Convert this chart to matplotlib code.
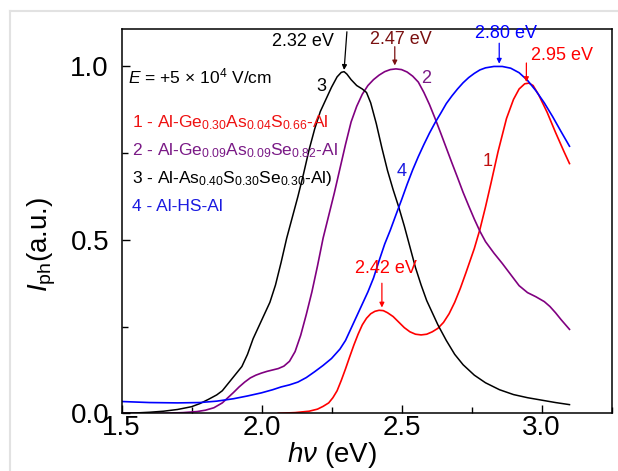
import matplotlib
matplotlib.use("Agg")
import matplotlib.pyplot as plt
from matplotlib.lines import Line2D
from matplotlib.ticker import MultipleLocator

plt.rcParams['font.family'] = ['Liberation Sans', 'DejaVu Sans']
plt.rcParams['mathtext.fontset'] = 'custom'
plt.rcParams['mathtext.rm'] = 'Liberation Sans'
plt.rcParams['mathtext.it'] = 'Liberation Sans:italic'
plt.rcParams['mathtext.bf'] = 'Liberation Sans:bold'

# ---- data ----
x1 = [2.06, 2.12, 2.17, 2.20, 2.22, 2.24, 2.255, 2.27, 2.285, 2.30, 2.315, 2.33, 2.345, 2.36,
      2.375, 2.39, 2.405, 2.42, 2.435, 2.45, 2.47, 2.49, 2.51, 2.53, 2.55, 2.57, 2.59, 2.61,
      2.63, 2.65, 2.67, 2.69, 2.71, 2.73, 2.76, 2.78, 2.80, 2.82, 2.845, 2.875, 2.90, 2.92,
      2.94, 2.955, 2.97, 2.99, 3.02, 3.05, 3.08, 3.10]
y1 = [0.000, 0.002, 0.006, 0.012, 0.020, 0.030, 0.045, 0.065, 0.095, 0.128, 0.163, 0.197, 0.228, 0.255,
      0.274, 0.287, 0.294, 0.297, 0.296, 0.290, 0.279, 0.263, 0.247, 0.235, 0.228, 0.226, 0.228, 0.235,
      0.245, 0.262, 0.287, 0.320, 0.360, 0.405, 0.475, 0.530, 0.595, 0.665, 0.755, 0.850, 0.905, 0.935,
      0.950, 0.952, 0.945, 0.918, 0.868, 0.810, 0.755, 0.720]

x2 = [1.50, 1.65, 1.72, 1.77, 1.80, 1.83, 1.86, 1.88, 1.90, 1.92, 1.94, 1.96, 1.98, 2.00,
      2.02, 2.04, 2.06, 2.08, 2.10, 2.12, 2.14, 2.16, 2.18, 2.20, 2.22, 2.24, 2.26, 2.28,
      2.30, 2.32, 2.34, 2.36, 2.38, 2.40, 2.42, 2.44, 2.46, 2.48, 2.50, 2.52, 2.54, 2.56,
      2.58, 2.60, 2.62, 2.64, 2.66, 2.68, 2.70, 2.72, 2.74, 2.76, 2.78, 2.80, 2.83, 2.86,
      2.89, 2.92, 2.95, 2.98, 3.01, 3.03, 3.05, 3.07, 3.10]
y2 = [0.000, 0.000, 0.002, 0.005, 0.009, 0.016, 0.030, 0.045, 0.060, 0.076, 0.090, 0.102, 0.110, 0.116,
      0.121, 0.125, 0.129, 0.136, 0.150, 0.178, 0.225, 0.285, 0.350, 0.425, 0.505, 0.570, 0.635, 0.705,
      0.775, 0.840, 0.885, 0.920, 0.945, 0.962, 0.975, 0.985, 0.991, 0.993, 0.991, 0.984, 0.972, 0.955,
      0.925, 0.890, 0.850, 0.808, 0.765, 0.722, 0.680, 0.637, 0.598, 0.560, 0.525, 0.495, 0.462, 0.432,
      0.400, 0.368, 0.348, 0.336, 0.322, 0.308, 0.290, 0.270, 0.242]

x3 = [1.50, 1.55, 1.60, 1.65, 1.70, 1.75, 1.78, 1.81, 1.84, 1.86, 1.88, 1.90, 1.915, 1.93,
      1.95, 1.97, 1.99, 2.01, 2.03, 2.05, 2.07, 2.09, 2.11, 2.13, 2.15, 2.17, 2.19, 2.21,
      2.23, 2.25, 2.27, 2.285, 2.295, 2.305, 2.32, 2.34, 2.36, 2.375, 2.39, 2.41, 2.43, 2.45,
      2.47, 2.49, 2.51, 2.53, 2.55, 2.57, 2.59, 2.61, 2.63, 2.66, 2.69, 2.72, 2.76, 2.80,
      2.85, 2.90, 2.95, 3.00, 3.05, 3.10]
y3 = [0.000, 0.001, 0.003, 0.006, 0.011, 0.019, 0.028, 0.040, 0.053, 0.065, 0.085, 0.105, 0.120, 0.135,
      0.170, 0.215, 0.250, 0.285, 0.320, 0.370, 0.435, 0.505, 0.565, 0.625, 0.690, 0.760, 0.820, 0.870,
      0.905, 0.940, 0.970, 0.983, 0.985, 0.978, 0.962, 0.945, 0.935, 0.925, 0.895, 0.835, 0.765, 0.700,
      0.645, 0.595, 0.540, 0.480, 0.420, 0.370, 0.325, 0.290, 0.255, 0.210, 0.170, 0.140, 0.110, 0.088,
      0.068, 0.054, 0.045, 0.038, 0.031, 0.025]

x4 = [1.50, 1.60, 1.70, 1.78, 1.84, 1.90, 1.95, 2.00, 2.04, 2.07, 2.10, 2.13, 2.16, 2.19,
      2.22, 2.25, 2.28, 2.30, 2.32, 2.34, 2.36, 2.38, 2.40, 2.42, 2.44, 2.46, 2.48, 2.50,
      2.52, 2.54, 2.56, 2.58, 2.60, 2.62, 2.64, 2.66, 2.68, 2.70, 2.72, 2.74, 2.76, 2.78,
      2.80, 2.83, 2.86, 2.89, 2.92, 2.95, 2.98, 3.01, 3.04, 3.07, 3.10]
y4 = [0.034, 0.031, 0.030, 0.031, 0.035, 0.042, 0.050, 0.059, 0.068, 0.076, 0.082, 0.090, 0.103, 0.120,
      0.138, 0.158, 0.185, 0.210, 0.245, 0.280, 0.315, 0.350, 0.390, 0.440, 0.488, 0.528, 0.572, 0.615,
      0.660, 0.702, 0.740, 0.775, 0.808, 0.838, 0.865, 0.893, 0.915, 0.935, 0.953, 0.968, 0.980, 0.990,
      0.996, 1.000, 1.000, 0.995, 0.982, 0.960, 0.930, 0.895, 0.855, 0.812, 0.770]

series_colors = ['#ff0000', '#800080', '#000000', '#0000ff']
legend_labels = [
    r"1 - Al-Ge$_{0.30}$As$_{0.04}$S$_{0.66}$-Al",
    r"2 - Al-Ge$_{0.09}$As$_{0.09}$Se$_{0.82}$-Al",
    r"3 - Al-As$_{0.40}$S$_{0.30}$Se$_{0.30}$-Al)",
    r"4 - Al-HS-Al",
]
legend_colors = ['#ee1111', '#7a1a86', '#000000', '#1a1ae0']
xticks = [1.5, 2.0, 2.5, 3.0]
yticks = [0.0, 0.5, 1.0]

fig = plt.figure(figsize=(6.18, 4.71), dpi=100)
fig.patch.set_facecolor('white')
# light gray frame of the original picture
fig.add_artist(Line2D([9.5/618, 9.5/618], [0, 1 - 11/471], color='#e2e2e2', lw=1.5))
fig.add_artist(Line2D([9.5/618, 1], [1 - 11/471, 1 - 11/471], color='#e2e2e2', lw=1.5))

ax = fig.add_axes([121.5/618, 1 - 413.3/471, 490/618, (413.3 - 29)/471])

ax.plot(x1, y1, color=series_colors[0], lw=1.2)
ax.plot(x2, y2, color=series_colors[1], lw=1.2)
ax.plot(x3, y3, color=series_colors[2], lw=1.1)
ax.plot(x4, y4, color=series_colors[3], lw=1.2)

ax.set_xlim(1.5, 3.25)
ax.set_ylim(0, 1.108)
ax.set_xticks(xticks)
ax.set_xticklabels([f"{t:.1f}" for t in xticks])
ax.set_yticks(yticks)
ax.set_yticklabels([f"{t:.1f}" for t in yticks])
ax.xaxis.set_minor_locator(MultipleLocator(0.25))
ax.yaxis.set_minor_locator(MultipleLocator(0.25))
ax.tick_params(which='major', direction='in', length=6, width=1.0, labelsize=20)
ax.tick_params(which='minor', direction='in', length=4, width=1.0)
ax.tick_params(axis='x', which='major', pad=1)
ax.tick_params(axis='y', which='major', pad=9)
for s in ax.spines.values():
    s.set_linewidth(1.1)

ax.set_xlabel(r"$h\nu$ (eV)", fontsize=20, labelpad=0)
ax.xaxis.set_label_coords(0.4286, -0.07)
ax.set_ylabel(r"$I_{\rm ph}$(a.u.)", fontsize=20, labelpad=2)
ax.yaxis.set_label_coords(-0.13, 0.44)

# field text
ax.text(1.522, 0.971, r"$E$ = +5$\,\times\,$10$^{4}$ V/cm", fontsize=12.5, va='center', ha='left')

# legend-like text
ly = [0.838, 0.757, 0.678, 0.596]
for lab, col, yy in zip(legend_labels, legend_colors, ly):
    ax.text(1.536, yy, lab, color=col, fontsize=12.5, va='center', ha='left')

# curve numbers
ax.text(2.214, 0.942, "3", fontsize=13, color='black', ha='center', va='center')
ax.text(2.589, 0.966, "2", fontsize=13, color='#7a1a86', ha='center', va='center')
ax.text(2.500, 0.697, "4", fontsize=13, color='#1a1ae0', ha='center', va='center')
ax.text(2.809, 0.726, "1", fontsize=13, color='#c01010', ha='center', va='center')

# peak annotations
def peak(label, tx, ty, ax0, ay0, ay1, col, ax1=None):
    ax.text(tx, ty, label, color=col, fontsize=13, ha='center', va='center', clip_on=False)
    ax.annotate('', xy=(ax1 if ax1 is not None else ax0, ay1), xytext=(ax0, ay0),
                arrowprops=dict(arrowstyle='-|>', color=col, lw=0.9, mutation_scale=7,
                                shrinkA=0, shrinkB=0), annotation_clip=False)

peak("2.32 eV", 2.147, 1.072, 2.305, 1.100, 0.990, 'black', ax1=2.295)
peak("2.47 eV", 2.497, 1.079, 2.476, 1.057, 1.003, '#7a1010')
peak("2.80 eV", 2.872, 1.094, 2.849, 1.067, 1.008, '#0000ff')
peak("2.95 eV", 3.074, 1.031, 2.946, 1.010, 0.955, '#ff0000')
peak("2.42 eV", 2.443, 0.418, 2.430, 0.375, 0.305, '#ff0000')

fig.savefig("out.png", dpi=100)
